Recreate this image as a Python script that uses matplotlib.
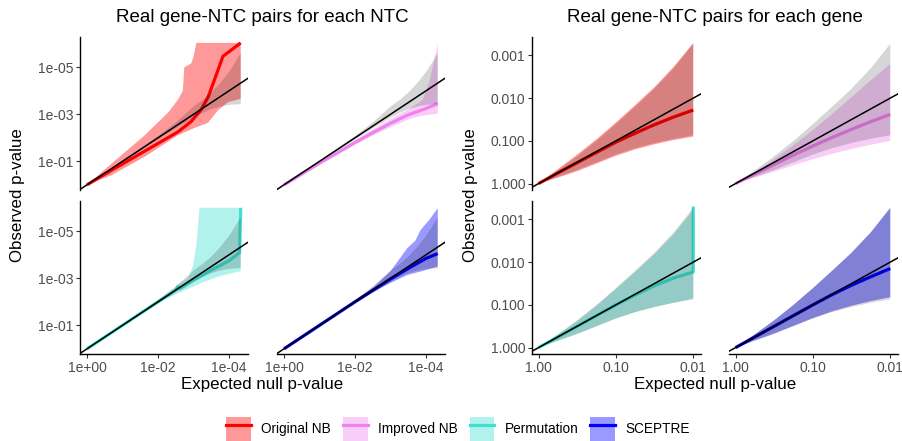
import numpy as np
import matplotlib
matplotlib.use("Agg")
import matplotlib.pyplot as plt
from matplotlib.patches import Patch
from matplotlib.lines import Line2D
from matplotlib.ticker import NullLocator

plt.rcParams['font.family'] = ['Liberation Sans', 'DejaVu Sans']

# ---------------- data (all values are -log10 p-values) ----------------
methods = ["Original NB", "Improved NB", "Permutation", "SCEPTRE"]
line_colors = ["#FF0000", "#EE82EE", "#40E0D0", "#0000FF"]

# Real gene-NTC pairs for each NTC -------------------------------------
ntc_null_x = [0, 0.5, 1, 1.5, 2, 2.5, 3, 3.25, 3.5, 3.75, 4, 4.15, 4.33]
ntc_null_hi = [0, 0.52, 1.03, 1.55, 2.08, 2.65, 3.33, 3.6, 3.92, 4.32, 4.8, 5.15, 5.6]
ntc_null_lo = [0, 0.48, 0.97, 1.45, 1.93, 2.4, 2.85, 3.05, 3.22, 3.33, 3.4, 3.42, 3.43]

ntc_orig_line_x = [0, 0.69, 1.62, 2.56, 2.94, 3.22, 3.41, 3.60, 3.83, 4.33]
ntc_orig_line_y = [0, 0.62, 1.43, 2.25, 2.70, 3.21, 3.73, 4.51, 5.47, 6.04]
ntc_orig_hi_x = [0, 0.69, 1.62, 2.3, 2.56, 2.7, 2.74, 2.94, 3.0, 3.08, 4.33]
ntc_orig_hi_y = [0, 0.9, 2.1, 3.1, 3.62, 4.0, 5.0, 5.17, 5.45, 6.04, 6.04]
ntc_orig_lo_x = [0, 0.69, 1.62, 2.56, 3.03, 3.41, 3.69, 3.97, 4.33]
ntc_orig_lo_y = [0, 0.41, 1.19, 2.11, 2.42, 2.64, 3.17, 3.52, 3.66]

ntc_impr_line_x = [0, 1, 2, 2.54, 3, 3.47, 4, 4.33]
ntc_impr_line_y = [0, 0.92, 1.8, 2.25, 2.62, 2.96, 3.25, 3.45]
ntc_impr_hi_x = [0, 1, 2, 2.5, 3, 3.5, 3.9, 4.1, 4.2, 4.33]
ntc_impr_hi_y = [0, 0.95, 1.9, 2.35, 2.8, 3.2, 3.6, 4.4, 5.1, 6.0]
ntc_impr_lo_x = [0, 1, 2, 2.5, 3, 3.5, 3.8, 4.33]
ntc_impr_lo_y = [0, 0.86, 1.7, 2.1, 2.45, 2.78, 2.92, 3.03]

ntc_perm_line_x = [0, 1, 2, 2.5, 2.56, 2.62, 3, 3.5, 3.78, 4.0, 4.3, 4.33]
ntc_perm_line_y = [0, 1, 2, 2.5, 2.64, 2.55, 2.92, 3.35, 3.57, 3.75, 4.1, 6.0]
ntc_perm_hi_x = [0, 2, 2.5, 2.56, 2.85, 2.99, 3.08, 3.17, 4.33]
ntc_perm_hi_y = [0, 2.05, 2.6, 2.74, 3.0, 3.56, 4.4, 6.0, 6.0]
ntc_perm_lo_x = [0, 2, 2.56, 3.31, 3.69, 4.33]
ntc_perm_lo_y = [0, 1.95, 2.36, 2.86, 3.07, 3.31]

ntc_scep_line_x = [0, 1, 2, 3, 3.5, 4, 4.33]
ntc_scep_line_y = [0, 1, 2, 2.97, 3.42, 3.85, 4.05]
ntc_scep_hi_x = [0, 2, 2.54, 3.0, 3.47, 3.7, 3.85, 4.1, 4.33]
ntc_scep_hi_y = [0, 2.05, 2.65, 3.3, 4.28, 4.6, 5.06, 5.5, 5.98]
ntc_scep_lo_x = [0, 2, 2.54, 3.0, 3.47, 4.0, 4.33]
ntc_scep_lo_y = [0, 1.95, 2.43, 2.8, 3.14, 3.35, 3.5]

# Real gene-NTC pairs for each gene ------------------------------------
gene_x = [0, 0.25, 0.5, 0.75, 1, 1.25, 1.5, 1.75, 2]
gene_null_hi = [0, 0.31, 0.64, 1.0, 1.39, 1.8, 2.22, 2.7, 3.27]
gene_null_lo = [0, 0.16, 0.32, 0.5, 0.68, 0.83, 0.95, 1.05, 1.13]

gene_orig_line = [0, 0.25, 0.49, 0.73, 0.97, 1.18, 1.38, 1.56, 1.72]
gene_orig_hi = [0, 0.34, 0.68, 1.04, 1.43, 1.84, 2.26, 2.74, 3.29]
gene_orig_lo = [0, 0.14, 0.29, 0.47, 0.65, 0.8, 0.92, 1.02, 1.1]

gene_impr_line = [0, 0.23, 0.45, 0.67, 0.88, 1.08, 1.27, 1.45, 1.62]
gene_impr_hi = [0, 0.27, 0.57, 0.9, 1.25, 1.63, 2.02, 2.42, 2.8]
gene_impr_lo = [0, 0.14, 0.28, 0.43, 0.57, 0.7, 0.81, 0.91, 1.0]

gene_perm_line_x = [0, 0.25, 0.5, 0.75, 1, 1.25, 1.5, 1.75, 2, 2]
gene_perm_line = [0, 0.25, 0.5, 0.75, 1.0, 1.23, 1.45, 1.63, 1.77, 3.3]
gene_perm_hi = [0, 0.3, 0.62, 0.98, 1.37, 1.77, 2.19, 2.66, 3.22]
gene_perm_lo = [0, 0.16, 0.32, 0.5, 0.68, 0.83, 0.95, 1.05, 1.15]

gene_scep_line = [0, 0.25, 0.5, 0.75, 1.0, 1.24, 1.46, 1.66, 1.85]
gene_scep_hi = [0, 0.31, 0.64, 1.0, 1.39, 1.8, 2.22, 2.7, 3.27]
gene_scep_lo = [0, 0.17, 0.33, 0.51, 0.69, 0.85, 0.98, 1.09, 1.18]

ntc_xticks = [1, 1e-2, 1e-4]
ntc_xticklabels = ["1e+00", "1e-02", "1e-04"]
ntc_yticks = [1e-1, 1e-3, 1e-5]
ntc_yticklabels = ["1e-01", "1e-03", "1e-05"]
gene_xticks = [1, 1e-1, 1e-2]
gene_xticklabels = ["1.00", "0.10", "0.01"]
gene_yticks = [1, 1e-1, 1e-2, 1e-3]
gene_yticklabels = ["1.000", "0.100", "0.010", "0.001"]


def p(v):
    return 10.0 ** (-np.asarray(v, dtype=float))


# ---------------- figure ----------------
W, H = 903, 441
fig = plt.figure(figsize=(W / 100, H / 100), dpi=100)


def rect(x0, x1, y0, y1):
    return [x0 / W, 1 - y1 / H, (x1 - x0) / W, (y1 - y0) / H]


ntc_series = [
    (ntc_orig_line_x, ntc_orig_line_y, ntc_orig_hi_x, ntc_orig_hi_y, ntc_orig_lo_x, ntc_orig_lo_y),
    (ntc_impr_line_x, ntc_impr_line_y, ntc_impr_hi_x, ntc_impr_hi_y, ntc_impr_lo_x, ntc_impr_lo_y),
    (ntc_perm_line_x, ntc_perm_line_y, ntc_perm_hi_x, ntc_perm_hi_y, ntc_perm_lo_x, ntc_perm_lo_y),
    (ntc_scep_line_x, ntc_scep_line_y, ntc_scep_hi_x, ntc_scep_hi_y, ntc_scep_lo_x, ntc_scep_lo_y),
]
gene_series = [
    (gene_x, gene_orig_line, gene_x, gene_orig_hi, gene_x, gene_orig_lo),
    (gene_x, gene_impr_line, gene_x, gene_impr_hi, gene_x, gene_impr_lo),
    (gene_perm_line_x, gene_perm_line, gene_x, gene_perm_hi, gene_x, gene_perm_lo),
    (gene_x, gene_scep_line, gene_x, gene_scep_hi, gene_x, gene_scep_lo),
]

col_x = {"ntc": [(80, 248), (277, 445)], "gene": [(532, 701), (729, 898)]}
row_y = [(37, 190), (201, 354)]


def draw_panel(ax, series, color, null_x, null_hi, null_lo):
    lx, ly, hx, hy, bx, by = series
    ax.fill(np.concatenate([p(hx), p(bx)[::-1]]),
            np.concatenate([p(hy), p(by)[::-1]]),
            facecolor=color, alpha=0.4, edgecolor='none', zorder=1)
    ax.plot(p(lx), p(ly), color=color, lw=2.3, zorder=2, solid_capstyle='butt')
    ax.fill(np.concatenate([p(null_x), p(null_x)[::-1]]),
            np.concatenate([p(null_hi), p(null_lo)[::-1]]),
            facecolor='black', alpha=0.16, edgecolor='none', zorder=3)
    ax.axline((1, 1), (1e-2, 1e-2), color='black', lw=1.1, zorder=4)


for group in ["ntc", "gene"]:
    for i, m in enumerate(methods):
        r, c = divmod(i, 2)
        (x0, x1), (y0, y1) = col_x[group][c], row_y[r]
        ax = fig.add_axes(rect(x0, x1, y0, y1))
        ax.set_xscale('log')
        ax.set_yscale('log')
        if group == "ntc":
            draw_panel(ax, ntc_series[i], line_colors[i], ntc_null_x, ntc_null_hi, ntc_null_lo)
            ax.set_xlim(10 ** 0.197, 10 ** -4.535)
            ax.set_ylim(10 ** 0.22, 10 ** -6.29)
            xt, xtl, yt, ytl = ntc_xticks, ntc_xticklabels, ntc_yticks, ntc_yticklabels
        else:
            draw_panel(ax, gene_series[i], line_colors[i], gene_x, gene_null_hi, gene_null_lo)
            ax.set_xlim(10 ** 0.085, 10 ** -2.1)
            ax.set_ylim(10 ** 0.15, 10 ** -3.43)
            xt, xtl, yt, ytl = gene_xticks, gene_xticklabels, gene_yticks, gene_yticklabels
        ax.set_xticks(xt)
        ax.set_xticklabels(xtl)
        ax.set_yticks(yt)
        ax.set_yticklabels(ytl)
        ax.xaxis.set_minor_locator(NullLocator())
        ax.yaxis.set_minor_locator(NullLocator())
        for s in ['top', 'right']:
            ax.spines[s].set_visible(False)
        for s in ['left', 'bottom']:
            ax.spines[s].set_linewidth(1.0)
            ax.spines[s].set_color('black')
        ax.tick_params(length=2.9, width=0.8, color='#333333', labelcolor='#4D4D4D',
                       labelsize=10, pad=2.0)
        if r == 0:
            ax.spines['bottom'].set_visible(False)
            ax.tick_params(axis='x', bottom=False, labelbottom=False)
        if c == 1:
            ax.spines['left'].set_visible(False)
            ax.tick_params(axis='y', left=False, labelleft=False)
        ax.set_facecolor('none')

# titles and axis labels
for cx, title in [(262.5, "Real gene-NTC pairs for each NTC"), (715, "Real gene-NTC pairs for each gene")]:
    fig.text(cx / W, 1 - 17 / H, title, ha='center', va='center', fontsize=13.5)
    fig.text(cx / W, 1 - 384 / H, "Expected null p-value", ha='center', va='center', fontsize=12.2)
for lx in [18, 471]:
    fig.text(lx / W, 1 - 195.5 / H, "Observed p-value", ha='center', va='center',
             rotation=90, fontsize=12.2)

handles = [(Patch(facecolor=c, alpha=0.4, edgecolor='none'), Line2D([], [], color=c, lw=2.3))
           for c in line_colors]
fig.legend(handles, methods, loc='center', bbox_to_anchor=(458 / W, 1 - 429 / H), ncol=4,
           frameon=False, fontsize=9.8, handlelength=1.8, handleheight=2.3,
           handletextpad=0.75, columnspacing=0.9, borderpad=0.2)

fig.savefig("out.png", dpi=100)
